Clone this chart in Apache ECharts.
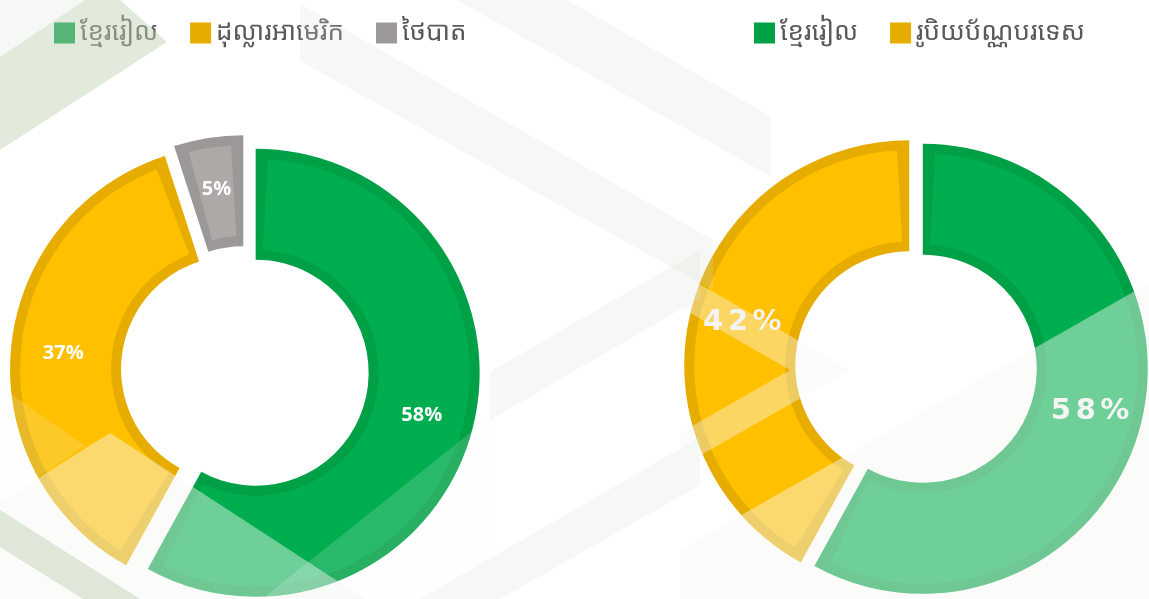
<!DOCTYPE html>
<html lang="km">
<head>
<meta charset="UTF-8">
<title>រូបិយប័ណ្ណ</title>
<script src="https://cdn.jsdelivr.net/npm/echarts@6/dist/echarts.min.js"></script>
<style>
    html, body { margin: 0; padding: 0; background: #ffffff; }
    #chart { width: 1149px; height: 599px; }
</style>
</head>
<body>
<div id="chart"></div>
<script>
    // data
    const leftNames = ['ខ្មែររៀល', 'ដុល្លារអាមេរិក', 'ថៃបាត'];
    const leftValues = [58, 37, 5];
    const rightNames = ['ខ្មែររៀល', 'រូបិយប័ណ្ណបរទេស'];
    const rightValues = [58, 42];

    const fillColors = ['#00AD4F', '#FFC000', '#ADA9A7'];
    const edgeColors = ['#00A046', '#E6AD00', '#9C9898'];
    const khmerFont = "'Noto Sans Khmer', 'Khmer OS', 'Khmer OS System', 'Leelawadee UI', 'Noto Sans', sans-serif";

    const chart = echarts.init(document.getElementById('chart'));

    function items(names, values, colors) {
        return names.map((n, i) => ({
            name: n,
            value: values[i],
            selected: true,
            itemStyle: { color: colors[i] }
        }));
    }

    // dark ring underneath + inset lighter ring on top = inner border look
    function donut(names, values, center, r0, r1, offset, label) {
        const common = {
            type: 'pie',
            center: center,
            startAngle: 90,
            clockwise: true,
            selectedMode: 'multiple',
            selectedOffset: offset,
            animation: false,
            emphasis: { disabled: true },
            labelLine: { show: false }
        };
        return [
            Object.assign({}, common, {
                radius: [r0, r1],
                z: 2,
                label: { show: false },
                data: items(names, values, edgeColors)
            }),
            Object.assign({}, common, {
                radius: [r0 + 10, r1 - 10],
                padAngle: 6.5,
                z: 3,
                label: label,
                data: items(names, values, fillColors)
            })
        ];
    }

    const leftLabel = {
        show: true,
        position: 'inside',
        color: '#ffffff',
        fontFamily: "'Open Sans', sans-serif",
        fontWeight: 'bold',
        fontSize: 20,
        formatter: p => Math.round(p.percent) + '%'
    };

    const rightFont = { color: '#F2F2F2', fontFamily: "'DejaVu Sans', sans-serif", fontWeight: 'bold', fontSize: 29 };
    const rightLabel = {
        show: true,
        position: 'inside',
        formatter: p => (Math.round(p.percent) + '%').split('')
            .map(c => (c === '%' ? '{p|%}' : '{d|' + c + '}')).join(''),
        rich: {
            d: Object.assign({ width: 25, align: 'center' }, rightFont),
            p: Object.assign({ width: 33, align: 'center' }, rightFont)
        }
    };

    function legendData(names) {
        return names.map((n, i) => ({ name: n, itemStyle: { color: edgeColors[i] } }));
    }

    const legendBase = {
        top: 20,
        padding: 0,
        icon: 'rect',
        itemWidth: 21,
        itemHeight: 21,
        itemGap: 32,
        selectedMode: false,
        textStyle: { color: '#595959', fontSize: 26, fontFamily: khmerFont }
    };

    // decorative pale stripes of the slide background, laid over the chart
    const faint = 'rgba(215,225,210,0.22)';
    const sage = 'rgba(189,209,177,0.46)';
    const lightStrong = 'rgba(246,248,245,0.45)';
    const lightMid = 'rgba(246,248,245,0.17)';
    const lightChevron = 'rgba(246,248,245,0.40)';
    function poly(points, fill) {
        return { type: 'polygon', silent: true, z: 100, shape: { points: points }, style: { fill: fill } };
    }

    const option = {
        backgroundColor: '#ffffff',
        animation: false,
        legend: [
            Object.assign({}, legendBase, { left: 54, data: legendData(leftNames) }),
            Object.assign({}, legendBase, { left: 754, data: legendData(rightNames) })
        ],
        series: [].concat(
            donut(leftNames, leftValues, [245, 370], 113, 224, 11, leftLabel),
            donut(rightNames, rightValues, [916, 367], 114, 225, 7, rightLabel)
        ),
        graphic: [
            poly([[457, 0], [567, 0], [770, 116], [770, 176]], faint),
            poly([[300, 4], [713, 240], [713, 290], [300, 61]], faint),
            poly([[490, 372], [700, 250], [700, 298], [490, 420]], faint),
            poly([[420, 599], [700, 437], [700, 485], [500, 599]], faint),
            poly([[0, 0], [85, 0], [0, 57]], faint),
            poly([[0, 502], [110, 433], [365, 599], [0, 599]], lightStrong),
            poly([[0, 386], [85, 446], [0, 502]], lightMid),
            poly([[490, 417], [490, 599], [262, 599]], lightMid),
            poly([[680, 550], [1149, 283], [1149, 599], [680, 599]], lightStrong),
            poly([[680, 273], [850, 370], [680, 467], [680, 433], [790, 370], [680, 307]], lightChevron),
            poly([[0, 57], [85, 0], [120, 0], [167, 42], [0, 150]], sage),
            poly([[0, 510], [140, 599], [83, 599], [0, 547]], sage)
        ]
    };

    chart.setOption(option);
</script>
</body>
</html>
